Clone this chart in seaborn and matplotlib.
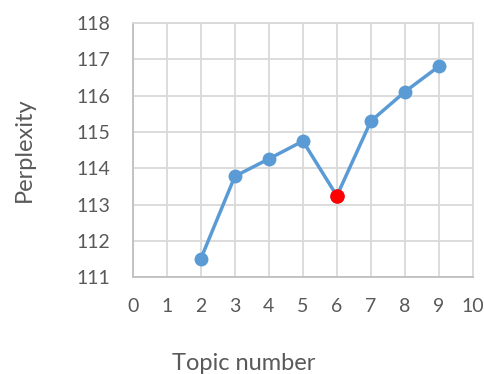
import matplotlib
matplotlib.use("Agg")
import matplotlib.pyplot as plt
import seaborn as sns
import pandas as pd

# values
topics = [2, 3, 4, 5, 6, 7, 8, 9]
perplexity = [111.51, 113.78, 114.26, 114.75, 113.24, 115.30, 116.11, 116.81]
best_topic = 6
best_perplexity = 113.24

df = pd.DataFrame({"Topic number": topics, "Perplexity": perplexity})

sns.set_style("white")
plt.rcParams["font.family"] = ["Lato", "DejaVu Sans"]

fig = plt.figure(figsize=(4.85, 3.74), dpi=100)
ax = fig.add_axes([0.274, 0.259, 0.701, 0.679])

sns.lineplot(data=df, x="Topic number", y="Perplexity", ax=ax,
             color="#5b9bd5", linewidth=2.5, marker="o", markersize=10,
             markeredgewidth=0, zorder=3)
sns.scatterplot(x=[best_topic], y=[best_perplexity], ax=ax, color="#ff0000",
                s=110, linewidth=0, zorder=4)

ax.set_xlim(0, 10)
ax.set_ylim(111, 118)
ax.set_xticks(range(0, 11))
ax.set_yticks(range(111, 119))
ax.grid(True, color="#d9d9d9", linewidth=1.3)
ax.set_axisbelow(True)
for s in ax.spines.values():
    s.set_color("#d9d9d9")
    s.set_linewidth(1.3)
ax.spines["left"].set_color("#bfbfbf")
ax.spines["bottom"].set_color("#bfbfbf")
ax.tick_params(length=0, labelsize=14, colors="#595959")
ax.tick_params(axis="x", pad=15)
ax.tick_params(axis="y", pad=16)
ax.set_xlabel("Topic number", fontsize=17, color="#595959", labelpad=20)
ax.set_ylabel("Perplexity", fontsize=17, color="#595959", labelpad=30)
ax.xaxis.set_label_coords(0.326, -0.30)

fig.savefig("out.png", dpi=100)
